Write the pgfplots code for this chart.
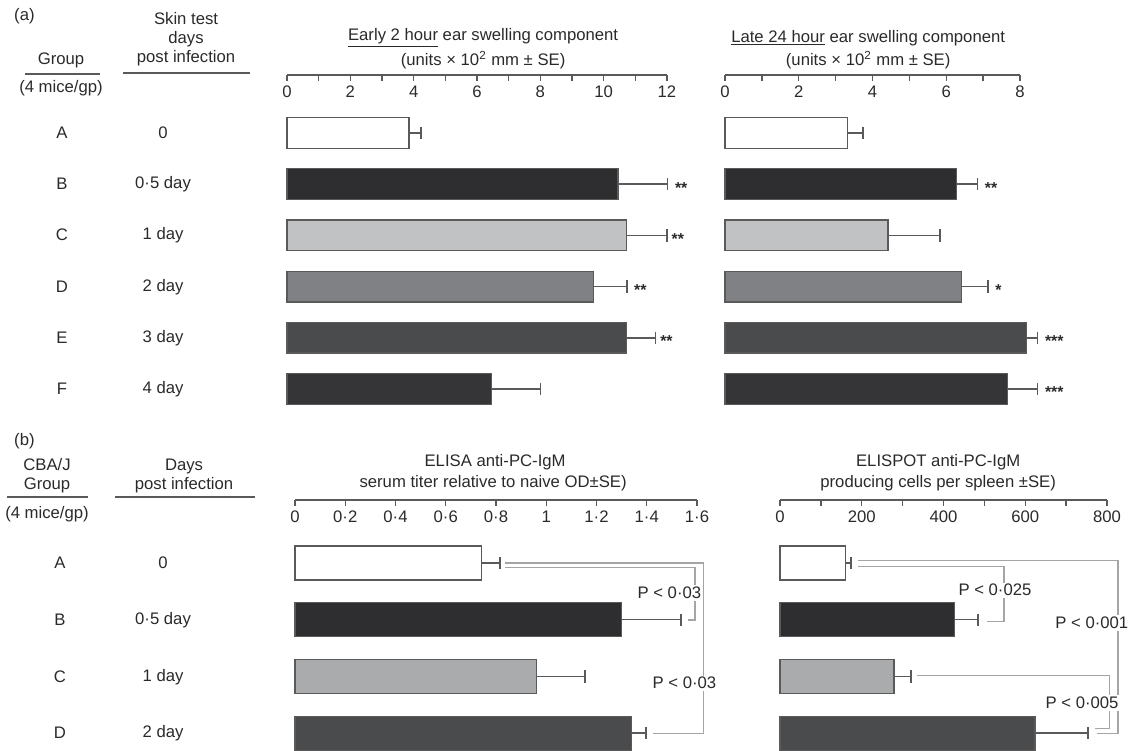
\documentclass[border=0pt]{standalone}
\usepackage{fontspec}
\setmainfont{Liberation Sans}
\usepackage{pgfplots}
\pgfplotsset{compat=1.18}
\definecolor{txt}{HTML}{2A2A2A}
\definecolor{edge}{HTML}{5A5A5A}
\definecolor{cA}{HTML}{FFFFFF}
\definecolor{cB}{HTML}{2E2D2F}
\definecolor{cC}{HTML}{C1C2C4}
\definecolor{cCb}{HTML}{AAABAD}
\definecolor{cD}{HTML}{808184}
\definecolor{cE}{HTML}{4A4B4D}
\definecolor{cF}{HTML}{353436}
\definecolor{brk}{HTML}{A5A5A5}
\pgfplotsset{
  myaxis/.style={
    scale only axis, anchor=north west, clip=false,
    axis x line=top, axis y line=none,
    x axis line style={-, line width=0.8pt, color=edge},
    tick align=inside, major tick length=0.12cm, minor tick length=0.12cm,
    every tick/.style={line width=0.8pt, color=edge},
    minor tick style={line width=0.8pt, color=edge},
    xticklabel style={anchor=north, yshift=-0.1cm, font=\fontsize{9.5}{10}\selectfont, text=txt},
    ytick=\empty,
  },
  mybar/.style={xbar, bar width=0.6, draw=edge, line width=0.7pt, fill=#1,
    error bars/x dir=plus, error bars/x explicit,
    error bars/error mark=|,
    error bars/error bar style={line width=0.9pt, color=edge},
    error bars/error mark options={line width=0.9pt, color=edge, mark size=3.5pt}},
}
\tikzset{
  mystar/.style={anchor=west, font=\fontsize{9}{10}\selectfont\bfseries, text=txt, yshift=-2pt, inner sep=1pt},
  mypval/.style={font=\fontsize{9.5}{10}\selectfont, text=txt, fill=white, inner sep=1pt},
}
\begin{document}
\begin{tikzpicture}
\useasboundingbox (0,0) rectangle (22.76cm,-15cm);

% ---------- (a) Early 2 hour ----------
\begin{axis}[myaxis, at={(5.74cm,-1.5cm)}, width=7.6cm, height=6.79cm,
  xmin=0, xmax=12, ymin=-5.5, ymax=1.133,
  xtick={0,2,4,6,8,10,12}, minor xtick={1,3,5,7,9,11},
  xticklabels={0,2,4,6,8,10,12}]
\addplot[mybar=cA] coordinates {(3.85,0) +- (0.38,0)};
\addplot[mybar=cB] coordinates {(10.45,-1) +- (1.57,0)};
\addplot[mybar=cC] coordinates {(10.73,-2) +- (1.27,0)};
\addplot[mybar=cD] coordinates {(9.68,-3) +- (1.05,0)};
\addplot[mybar=cE] coordinates {(10.73,-4) +- (0.91,0)};
\addplot[mybar=cF] coordinates {(6.47,-5) +- (1.53,0)};
\node[mystar] at (axis cs:12.02,-1) {\,\,**};
\node[mystar] at (axis cs:12.0,-2) {\,**};
\node[mystar] at (axis cs:10.73,-3) {\,\,**};
\node[mystar] at (axis cs:11.64,-4) {\,**};
\end{axis}

% ---------- (a) Late 24 hour ----------
\begin{axis}[myaxis, at={(14.5cm,-1.5cm)}, width=5.9cm, height=6.79cm,
  xmin=0, xmax=8, ymin=-5.5, ymax=1.133,
  xtick={0,2,4,6,8}, minor xtick={1,3,5,7},
  xticklabels={0,2,4,6,8}]
\addplot[mybar=cA] coordinates {(3.33,0) +- (0.42,0)};
\addplot[mybar=cB] coordinates {(6.28,-1) +- (0.57,0)};
\addplot[mybar=cC] coordinates {(4.42,-2) +- (1.41,0)};
\addplot[mybar=cD] coordinates {(6.42,-3) +- (0.71,0)};
\addplot[mybar=cE] coordinates {(8.18,-4) +- (0.30,0)};
\addplot[mybar=cF] coordinates {(7.67,-5) +- (0.81,0)};
\node[mystar] at (axis cs:6.85,-1) {\,\,**};
\node[mystar] at (axis cs:7.13,-3) {\,\,*};
\node[mystar] at (axis cs:8.48,-4) {\,\,***};
\node[mystar] at (axis cs:8.48,-5) {\,\,***};
\end{axis}

% ---------- (b) ELISA ----------
\begin{axis}[myaxis, at={(5.9cm,-10cm)}, width=8.04cm, height=5.23cm,
  xmin=0, xmax=1.6, ymin=-3.5, ymax=1.11,
  xtick={0,0.2,0.4,0.6,0.8,1,1.2,1.4,1.6},
  xticklabels={0,0·2,0·4,0·6,0·8,1,1·2,1·4,1·6}]
\addplot[mybar=cA] coordinates {(0.741,0) +- (0.075,0)};
\addplot[mybar=cB] coordinates {(1.298,-1) +- (0.239,0)};
\addplot[mybar=cCb] coordinates {(0.960,-2) +- (0.195,0)};
\addplot[mybar=cE] coordinates {(1.338,-3) +- (0.060,0)};
\draw[brk, line width=0.6pt] (axis cs:0.836,-0.088) -- (axis cs:1.592,-0.088) -- (axis cs:1.592,-1.005) -- (axis cs:1.564,-1.005);
\draw[brk, line width=0.6pt] (axis cs:0.836,0.0) -- (axis cs:1.624,0.0) -- (axis cs:1.624,-3.0) -- (axis cs:1.425,-3.0);
\node[mypval] at (axis cs:1.49,-0.53) {P < 0·03};
\node[mypval] at (axis cs:1.55,-2.12) {P < 0·03};
\end{axis}

% ---------- (b) ELISPOT ----------
\begin{axis}[myaxis, at={(15.6cm,-10cm)}, width=6.54cm, height=5.23cm,
  xmin=0, xmax=800, ymin=-3.5, ymax=1.11,
  xtick={0,200,400,600,800}, minor xtick={100,300,500,700},
  xticklabels={0,200,400,600,800}]
\addplot[mybar=cA] coordinates {(161,0) +- (13,0)};
\addplot[mybar=cB] coordinates {(426,-1) +- (59,0)};
\addplot[mybar=cCb] coordinates {(279,-2) +- (41,0)};
\addplot[mybar=cE] coordinates {(624,-3) +- (129,0)};
\draw[brk, line width=0.6pt] (axis cs:191,-0.07) -- (axis cs:548,-0.07) -- (axis cs:548,-1.04) -- (axis cs:506,-1.04);
\draw[brk, line width=0.6pt] (axis cs:191,0.05) -- (axis cs:827,0.05) -- (axis cs:827,-3.0) -- (axis cs:776,-3.0);
\draw[brk, line width=0.6pt] (axis cs:335,-1.98) -- (axis cs:807,-1.98) -- (axis cs:807,-2.91) -- (axis cs:771,-2.91);
\node[mypval] at (axis cs:526,-0.48) {P < 0·025};
\node[mypval] at (axis cs:763,-1.06) {P < 0·001};
\node[mypval] at (axis cs:739,-2.47) {P < 0·005};
\end{axis}

% ---------- text ----------
\begin{scope}[x=0.02cm, y=-0.02cm, every node/.style={font=\fontsize{9.5}{10.8}\selectfont, text=txt}]
\node[anchor=west] at (8,16) {(a)};
\node at (61,60) {Group};
\draw[edge, line width=0.8pt] (25,74) -- (100,74);
\node at (61,88) {(4 mice/gp)};
\node[align=center] at (186,39) {Skin test\\days\\post infection};
\draw[edge, line width=0.8pt] (123,73) -- (250,73);
\node at (483,38) {\underline{Early 2 hour} ear swelling component};
\node at (483,60) {(units × 10\textsuperscript{2} mm ± SE)};
\node at (868,38) {\underline{Late 24 hour} ear swelling component};
\node at (868,60) {(units × 10\textsuperscript{2} mm ± SE)};
\foreach \g/\d/\y in {A/0/133, B/0·5 day/184, C/1 day/235, D/2 day/287, E/3 day/338, F/4 day/389}{
  \node at (62,\y) {\g};
  \node at (163,\y) {\d};
}
\node[anchor=west] at (8,441) {(b)};
\node[align=center] at (47,476) {CBA/J\\Group};
\draw[edge, line width=0.8pt] (7,497) -- (88,497);
\node at (47,514) {(4 mice/gp)};
\node[align=center] at (184,476) {Days\\post infection};
\draw[edge, line width=0.8pt] (115,497) -- (255,497);
\node at (495,462) {ELISA anti-PC-IgM};
\node at (493,483) {serum titer relative to naive OD±SE)};
\node at (938,462) {ELISPOT anti-PC-IgM};
\node at (938,483) {producing cells per spleen ±SE)};
\foreach \g/\d/\y in {A/0/563, B/0·5 day/620, C/1 day/677, D/2 day/733}{
  \node at (60,\y) {\g};
  \node at (163,\y) {\d};
}
\end{scope}
\end{tikzpicture}
\end{document}
